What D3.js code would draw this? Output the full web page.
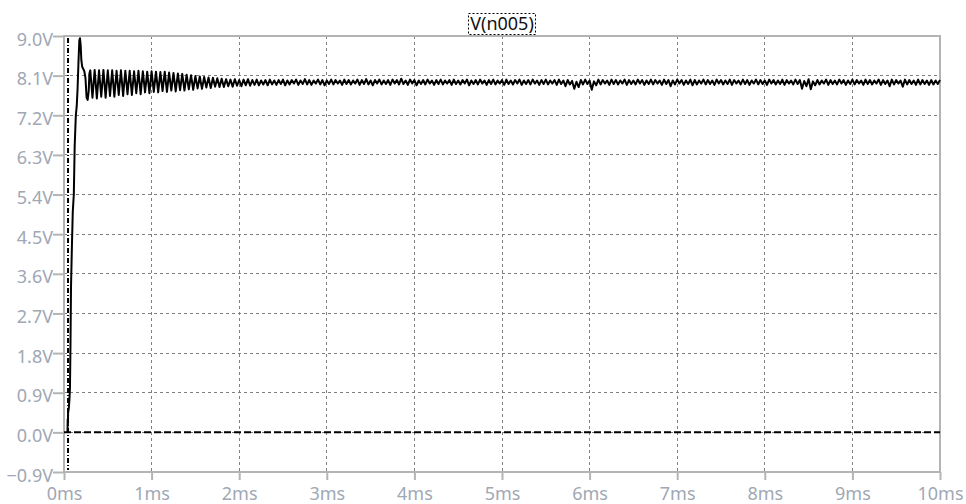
<!DOCTYPE html>
<html><head><meta charset="utf-8">
<script src="https://cdn.jsdelivr.net/npm/d3@7"></script>
<style>body{margin:0;background:#fff}svg{display:block}</style>
</head><body>
<script>
// ---- data ----
const title = "V(n005)";
const yTicks = [-0.9,0.0,0.9,1.8,2.7,3.6,4.5,5.4,6.3,7.2,8.1,9.0];
const xTicks = [0,1,2,3,4,5,6,7,8,9,10];
// startup ramp, [time ms, volts]
const rampPoints = [[0.040,0.00],[0.042,0.30],[0.044,0.15],[0.047,0.45],[0.055,0.55],[0.062,0.75],[0.068,1.0],[0.074,2.0],[0.080,3.3],[0.090,4.2],[0.100,5.0],[0.112,5.4],[0.122,6.5],[0.135,7.2],[0.145,7.4],[0.155,7.8],[0.165,8.4],[0.175,8.9],[0.182,8.95],[0.190,8.8],[0.198,8.45],[0.208,8.3],[0.220,8.25],[0.232,8.2],[0.245,8.05],[0.258,7.6],[0.270,7.55],[0.282,7.75],[0.290,8.15]];
// ringing, sampled every 0.025 ms from 0.30 ms
const ringStart = 0.30, ringStep = 0.025;
const ringValues = [
8.22,7.60,8.23,7.58,8.22,7.62,8.23,7.60,8.22,7.64,
8.22,7.62,8.21,7.66,8.22,7.64,8.21,7.68,8.21,7.66,
8.20,7.70,8.21,7.68,8.20,7.72,8.19,7.70,8.20,7.73,
8.19,7.72,8.18,7.75,8.19,7.73,8.17,7.76,8.16,7.74,
8.15,7.77,8.14,7.76,8.12,7.79,8.11,7.78,8.09,7.81,
8.08,7.80,8.07,7.83,8.06,7.82,8.05,7.85,8.04,7.84];
// steady state, sampled every 0.025 ms from 1.80 ms
const steadyStart = 1.80, steadyStep = 0.025;
const steadyValues = [
8.03,7.84,8.02,7.86,8.01,7.85,8.02,7.87,8.00,7.86,8.01,7.88,8.02,7.87,8.00,7.89,8.01,7.88,7.99,7.90,
8.00,7.88,8.01,7.90,7.99,7.89,8.00,7.91,8.01,7.88,7.99,7.90,8.00,7.92,8.01,7.89,7.99,7.91,8.02,7.90,
8.00,7.89,7.99,7.92,8.01,7.90,8.00,7.88,7.99,7.91,8.01,7.90,8.00,7.92,7.99,7.89,8.01,7.91,8.00,7.90,
7.99,7.92,8.01,7.89,8.00,7.91,8.02,7.90,7.99,7.88,8.00,7.92,8.01,7.90,7.99,7.91,8.00,7.89,8.01,7.92,
8.00,7.90,8.03,7.91,7.99,7.89,8.01,7.92,8.00,7.88,7.99,7.91,8.00,7.90,8.01,7.92,7.99,7.89,8.00,7.91,
8.01,7.90,7.99,7.92,8.00,7.89,8.01,7.91,7.99,7.90,8.00,7.92,8.01,7.88,7.99,7.91,8.00,7.90,8.01,7.92,
7.99,7.89,8.00,7.91,8.01,7.90,7.99,7.92,8.00,7.89,8.01,7.91,7.99,7.90,8.00,7.92,8.01,7.89,7.99,7.91,
8.00,7.90,8.01,7.92,7.99,7.89,8.00,7.91,8.01,7.90,7.99,7.92,8.00,7.89,8.01,7.91,7.99,7.86,8.00,7.90,
7.98,7.80,7.96,7.84,8.00,7.90,8.01,7.91,7.99,7.78,7.97,7.88,8.01,7.90,8.00,7.92,7.99,7.89,8.01,7.91,
8.00,7.90,7.99,7.92,8.01,7.89,8.00,7.91,7.99,7.90,8.01,7.92,8.00,7.89,7.99,7.91,8.01,7.90,8.00,7.92,
7.99,7.89,8.01,7.91,8.00,7.86,7.99,7.90,8.01,7.92,8.00,7.89,7.99,7.91,8.01,7.88,8.00,7.90,7.99,7.92,
8.01,7.90,8.00,7.91,7.99,7.89,8.01,7.92,8.00,7.90,7.99,7.91,8.01,7.89,8.00,7.92,7.99,7.90,8.01,7.91,
8.00,7.89,7.99,7.92,8.01,7.90,8.00,7.91,7.99,7.89,8.01,7.92,8.00,7.90,7.99,7.91,8.01,7.89,8.00,7.92,
7.99,7.90,8.01,7.91,8.00,7.80,7.98,7.86,8.02,7.79,7.97,7.88,8.00,7.90,7.99,7.92,8.01,7.89,8.00,7.91,
7.99,7.90,8.01,7.92,8.00,7.89,7.99,7.91,8.01,7.90,8.00,7.92,7.99,7.89,8.01,7.91,8.00,7.90,7.99,7.92,
8.01,7.89,8.00,7.91,7.99,7.86,8.01,7.90,8.00,7.92,7.99,7.85,8.01,7.90,8.00,7.91,7.99,7.89,8.01,7.90,
8.00,7.91,7.99,7.89,8.00,7.90,7.99,7.91,8.00];
const markerTime = 0.046;   // dash-dot vertical marker
const zeroLevel = 0.0;

// ---- layout ----
const W = 966, H = 504;
const m = {left:64, right:26, top:36, bottom:32};
const svg = d3.select("body").append("svg").attr("width",W).attr("height",H);
const x = d3.scaleLinear().domain([0,10]).range([m.left, W-m.right]);
const y = d3.scaleLinear().domain([-0.9,9.0]).range([H-m.bottom, m.top]);
const font = "'Noto Sans', 'DejaVu Sans', sans-serif";
const labelColor = "#a0a8b4", axisColor = "#b4b4b4";

// grid
const g = svg.append("g");
g.selectAll(".vg").data(xTicks.slice(1,-1)).join("line")
  .attr("x1",d=>x(d)).attr("x2",d=>x(d)).attr("y1",y(9.0)).attr("y2",y(-0.9))
  .attr("stroke","#808080").attr("stroke-width",1).attr("stroke-dasharray","3,3")
  .attr("shape-rendering","crispEdges");
g.selectAll(".hg").data(yTicks.slice(1,-1)).join("line")
  .attr("x1",x(0)).attr("x2",x(10)).attr("y1",d=>y(d)).attr("y2",d=>y(d))
  .attr("stroke","#808080").attr("stroke-width",1).attr("stroke-dasharray","3,3")
  .attr("shape-rendering","crispEdges");

// frame
svg.append("rect").attr("x",x(0)).attr("y",y(9.0)).attr("width",x(10)-x(0)).attr("height",y(-0.9)-y(9.0))
  .attr("fill","none").attr("stroke",axisColor).attr("stroke-width",2);

// axes
const yAxis = d3.axisLeft(y).tickValues(yTicks).tickSize(11).tickPadding(0)
  .tickFormat(d=>d3.format(".1f")(d)+"V");
const ya = svg.append("g").attr("transform",`translate(${x(0)},0)`).call(yAxis);
ya.select(".domain").remove();
ya.selectAll("line").attr("stroke",axisColor).attr("stroke-width",2);
ya.selectAll("text").attr("fill",labelColor).attr("font-family",font).attr("font-size",18)
  .attr("dy","0.5em").attr("x",-11);

const xAxis = d3.axisBottom(x).tickValues(xTicks).tickSize(8).tickPadding(0)
  .tickFormat(d=>d+"ms");
const xa = svg.append("g").attr("transform",`translate(0,${y(-0.9)})`).call(xAxis);
xa.select(".domain").remove();
xa.selectAll("line").attr("stroke",axisColor).attr("stroke-width",2);
xa.selectAll("text").attr("fill",labelColor).attr("font-family",font).attr("font-size",18)
  .attr("dy",null).attr("y",28);

// reference lines
svg.append("line").attr("x1",x(0)).attr("x2",x(10)).attr("y1",y(zeroLevel)).attr("y2",y(zeroLevel))
  .attr("stroke","#000").attr("stroke-width",2).attr("stroke-dasharray","7,3");
svg.append("line").attr("x1",x(markerTime)).attr("x2",x(markerTime)).attr("y1",y(9.0)+2).attr("y2",y(-0.9)-2)
  .attr("stroke","#000").attr("stroke-width",2).attr("stroke-dasharray","5,2,1,2");

// waveform
const pts = rampPoints.map(d=>[d[0],d[1]])
  .concat(ringValues.map((v,i)=>[ringStart+i*ringStep, v]))
  .concat(steadyValues.map((v,i)=>[steadyStart+i*steadyStep, v]));
const line = d3.line().x(d=>x(d[0])).y(d=>y(d[1]));
svg.append("path").datum(pts).attr("d",line).attr("fill","none")
  .attr("stroke","#000").attr("stroke-width",2).attr("stroke-linejoin","round");

// title
const tx = (x(0)+x(10))/2;
const tt = svg.append("text").attr("x",tx).attr("y",30).attr("text-anchor","middle")
  .attr("font-family",font).attr("font-size",18).attr("fill","#111").text(title);
const bb = tt.node().getBBox();
svg.append("rect").attr("x",Math.round(bb.x)-1.5).attr("y",13.5).attr("width",Math.round(bb.width)+3).attr("height",21)
  .attr("fill","none").attr("stroke","#000").attr("stroke-width",1).attr("stroke-dasharray","2,2");
</script>
</body></html>
